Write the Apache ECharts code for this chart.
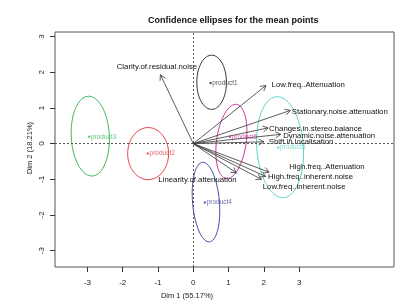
<!DOCTYPE html>
<html>
<head>
<meta charset="utf-8">
<script src="https://cdn.jsdelivr.net/npm/echarts@6/dist/echarts.min.js"></script>
<style>
  html, body { margin: 0; padding: 0; background: #fff; }
  #main { width: 398px; height: 306px; }
</style>
</head>
<body>
<div id="main"></div>
<script>
// mean points of the products
const products = ['product1', 'product2', 'product3', 'product4', 'product5', 'product6']
const prodX = [0.49, -1.29, -2.95, 0.33, 2.41, 1.04]
const prodY = [1.70, -0.28, 0.19, -1.65, -0.11, 0.19]
const prodColors = ['#333333', '#e8404a', '#3cb95a', '#4a4aa8', '#5cd6cc', '#c8389c']

// confidence ellipses: centre, semi axes, tilt of the long axis (deg, ccw)
const ellCx = [0.52, -1.28, -2.92, 0.36, 2.46, 1.08]
const ellCy = [1.72, -0.28, 0.21, -1.64, -0.10, 0.06]
const ellRx = [0.42, 0.58, 0.54, 0.38, 0.66, 0.42]
const ellRy = [0.76, 0.73, 1.12, 1.12, 1.42, 1.05]
const ellAngle = [0, 0, 3, 5, 4, -8]

// supplementary variables (arrows) and where their labels sit
const variables = [
  'Clarity.of.residual.noise', 'Low.freq..Attenuation', 'Stationary.noise.attenuation',
  'Changes.in.stereo.balance', 'Dynamic.noise.attenuation', 'Shift.in.localisation',
  'High.freq..Attenuation', 'High.freq..inherent.noise', 'Low.freq..inherent.noise',
  'Linearity.of.attenuation'
]
const varX = [-0.93, 2.06, 2.75, 2.12, 2.48, 2.00, 2.15, 2.05, 1.93, 1.22]
const varY = [1.93, 1.63, 0.93, 0.44, 0.26, 0.05, -0.80, -0.92, -1.00, -0.82]
const labX = [-1.03, 2.22, 2.79, 2.15, 2.55, 2.14, 2.72, 2.12, 1.97, 0.12]
const labY = [2.15, 1.66, 0.88, 0.42, 0.23, 0.04, -0.64, -0.94, -1.20, -1.03]
const labAlign = ['center', 'left', 'left', 'left', 'left', 'left', 'left', 'left', 'left', 'center']

const ticks = [-3, -2, -1, 0, 1, 2, 3]

const FONT = 'Liberation Sans, Arial, sans-serif'

var myChart = echarts.init(document.getElementById('main'))

let ellipseData = products.map((p, i) => [ellCx[i], ellCy[i], ellRx[i], ellRy[i], ellAngle[i], i])
let arrowData = variables.map((v, i) => [varX[i], varY[i], i])
let labelData = variables.map((v, i) => [labX[i], labY[i], i])

let option = {
  animation: false,
  backgroundColor: '#fff',
  title: {
    text: 'Confidence ellipses for the mean points',
    left: 143,
    top: 11,
    textStyle: { fontFamily: FONT, fontSize: 9, fontWeight: 'bold', color: '#111' }
  },
  grid: {
    left: 55, right: 4, top: 32, bottom: 39,
    show: true, borderColor: '#555', borderWidth: 1
  },
  xAxis: {
    type: 'value', min: -3.92, max: 5.69,
    axisLine: { show: false, onZero: false },
    splitLine: { show: false },
    axisTick: { show: true, length: 5, customValues: ticks, lineStyle: { color: '#333' } },
    axisLabel: { customValues: ticks, margin: 12, fontFamily: FONT, fontSize: 8, color: '#222' }
  },
  yAxis: {
    type: 'value', min: -3.46, max: 3.13,
    axisLine: { show: false, onZero: false },
    splitLine: { show: false },
    axisTick: { show: true, length: 5, customValues: ticks, lineStyle: { color: '#333' } },
    axisLabel: { customValues: ticks, rotate: 90, margin: 9, fontFamily: FONT, fontSize: 8, color: '#222' }
  },
  graphic: [
    { type: 'text', x: 187, y: 296, style: { text: 'Dim 1 (55.17%)', font: '7.5px ' + FONT, fill: '#222', align: 'center', verticalAlign: 'middle' } },
    { type: 'text', x: 30, y: 148, rotation: Math.PI / 2, style: { text: 'Dim 2 (18.21%)', font: '7.5px ' + FONT, fill: '#222', align: 'center', verticalAlign: 'middle' } }
  ],
  series: [
    {
      // ellipses
      type: 'custom',
      data: ellipseData,
      encode: { x: 0, y: 1 },
      renderItem: function (params, api) {
        let cx = api.value(0), cy = api.value(1)
        let rx = api.value(2), ry = api.value(3)
        let a = api.value(4) * Math.PI / 180
        let idx = api.value(5)
        let pts = []
        for (let k = 0; k <= 72; k++) {
          let t = k / 72 * Math.PI * 2
          let dx = rx * Math.cos(t), dy = ry * Math.sin(t)
          pts.push(api.coord([cx + dx * Math.cos(a) - dy * Math.sin(a), cy + dx * Math.sin(a) + dy * Math.cos(a)]))
        }
        return { type: 'polyline', shape: { points: pts }, style: { stroke: prodColors[idx], lineWidth: 1, fill: null } }
      },
      markLine: {
        silent: true,
        symbol: 'none',
        label: { show: false },
        lineStyle: { type: [2, 2], color: '#555', width: 1 },
        data: [{ xAxis: 0 }, { yAxis: 0 }]
      },
      z: 2
    },
    {
      // arrows from the origin
      type: 'custom',
      data: arrowData,
      encode: { x: 0, y: 1 },
      renderItem: function (params, api) {
        let o = api.coord([0, 0])
        let p = api.coord([api.value(0), api.value(1)])
        let ang = Math.atan2(p[1] - o[1], p[0] - o[0])
        let len = 6, spread = Math.PI / 6
        let h1 = [p[0] - len * Math.cos(ang - spread), p[1] - len * Math.sin(ang - spread)]
        let h2 = [p[0] - len * Math.cos(ang + spread), p[1] - len * Math.sin(ang + spread)]
        let st = { stroke: '#333', lineWidth: 0.8 }
        return {
          type: 'group',
          children: [
            { type: 'line', shape: { x1: o[0], y1: o[1], x2: p[0], y2: p[1] }, style: st },
            { type: 'line', shape: { x1: p[0], y1: p[1], x2: h1[0], y2: h1[1] }, style: st },
            { type: 'line', shape: { x1: p[0], y1: p[1], x2: h2[0], y2: h2[1] }, style: st }
          ]
        }
      },
      z: 3
    },
    {
      // variable names
      type: 'custom',
      data: labelData,
      encode: { x: 0, y: 1 },
      renderItem: function (params, api) {
        let p = api.coord([api.value(0), api.value(1)])
        let i = api.value(2)
        return {
          type: 'text',
          x: p[0], y: p[1],
          style: { text: variables[i], font: '7.8px ' + FONT, fill: '#111', align: labAlign[i], verticalAlign: 'middle' }
        }
      },
      z: 4
    },
    {
      // mean points
      type: 'scatter',
      data: products.map((p, i) => ({
        value: [prodX[i], prodY[i]],
        itemStyle: { color: prodColors[i] },
        label: { color: prodColors[i] }
      })),
      symbol: 'circle',
      symbolSize: 2.5,
      label: {
        show: true,
        position: 'right',
        distance: 0.5,
        formatter: (p) => products[p.dataIndex],
        fontFamily: FONT,
        fontSize: 6.5
      },
      z: 5
    }
  ]
}

myChart.setOption(option)
</script>
</body>
</html>
